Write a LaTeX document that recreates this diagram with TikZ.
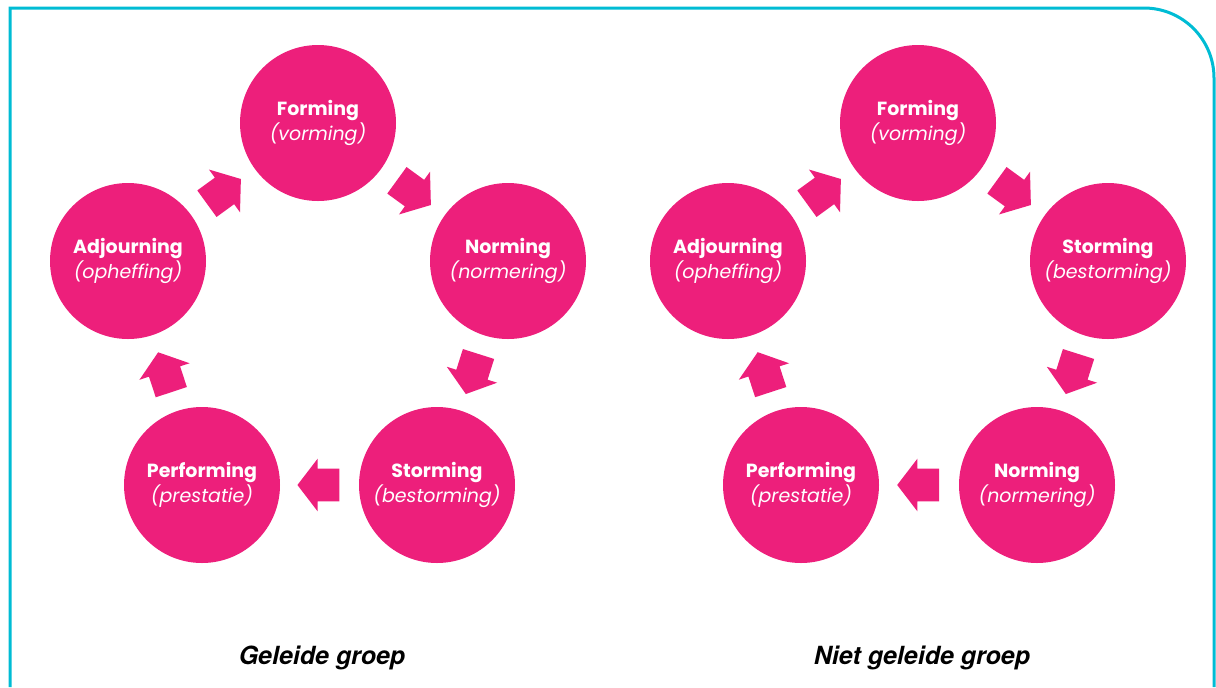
\documentclass[tikz,border=0pt]{standalone}
\usepackage{fontspec}
\setmainfont{Poppins}
\newfontfamily\capfont{TeX Gyre Heros}
\usetikzlibrary{shapes.arrows}
\definecolor{stagepink}{RGB}{237,31,123}
\definecolor{framecyan}{RGB}{0,188,212}
\begin{document}
\begin{tikzpicture}[x=0.5pt, y=-0.5pt, stage node/.style={circle,fill=stagepink,minimum size=78pt,inner sep=0pt,text=white,align=center,font=\fontsize{9.5}{12.5}\selectfont}, block arrow/.style={single arrow,fill=stagepink,minimum height=21pt,inner xsep=0pt,inner ysep=8pt,single arrow head extend=5pt,single arrow tip angle=105,sloped,allow upside down,anchor=tail,pos=0.24}]
\useasboundingbox (0,0) rectangle (1216,687);
\draw[framecyan, line width=1.5pt] (10,687) -- (10,8) -- (1144,8) arc[start angle=-90, end angle=0, radius=70] -- (1214,687);
\begin{scope}
% geleide groep
\node[stage node] (f1) at (318,123) {\textbf{Forming}\\\textit{(vorming)}};
\node[stage node] (n1) at (508,261) {\textbf{Norming}\\\textit{(normering)}};
\node[stage node] (s1) at (437,485) {\textbf{Storming}\\\textit{(bestorming)}};
\node[stage node] (p1) at (202,485) {\textbf{Performing}\\\textit{(prestatie)}};
\node[stage node] (a1) at (128,261) {\textbf{Adjourning}\\\textit{(opheffing)}};
%\node[stage node] () at (,) {};
\end{scope}
\begin{scope}
% niet geleide groep
\node[stage node] (f2) at (918,123) {\textbf{Forming}\\\textit{(vorming)}};
\node[stage node] (s2) at (1108,261) {\textbf{Storming}\\\textit{(bestorming)}};
\node[stage node] (n2) at (1037,485) {\textbf{Norming}\\\textit{(normering)}};
\node[stage node] (p2) at (801,485) {\textbf{Performing}\\\textit{(prestatie)}};
\node[stage node] (a2) at (728,261) {\textbf{Adjourning}\\\textit{(opheffing)}};
\end{scope}
\begin{scope}
\path (a1) -- node[block arrow]{} (f1);
\path (f1) -- node[block arrow]{} (n1);
\path (n1) -- node[block arrow]{} (s1);
\path (s1) -- node[block arrow]{} (p1);
\path (p1) -- node[block arrow]{} (a1);
\path (a2) -- node[block arrow]{} (f2);
\path (f2) -- node[block arrow]{} (s2);
\path (s2) -- node[block arrow]{} (n2);
\path (n2) -- node[block arrow]{} (p2);
\path (p2) -- node[block arrow]{} (a2);
\end{scope}
\node[font=\capfont\fontsize{12.5}{15}\selectfont\bfseries\itshape] (g1) at (322,658) {Geleide groep};
\node[font=\capfont\fontsize{12.5}{15}\selectfont\bfseries\itshape] (g2) at (922,658) {Niet geleide groep};
\end{tikzpicture}
\end{document}
